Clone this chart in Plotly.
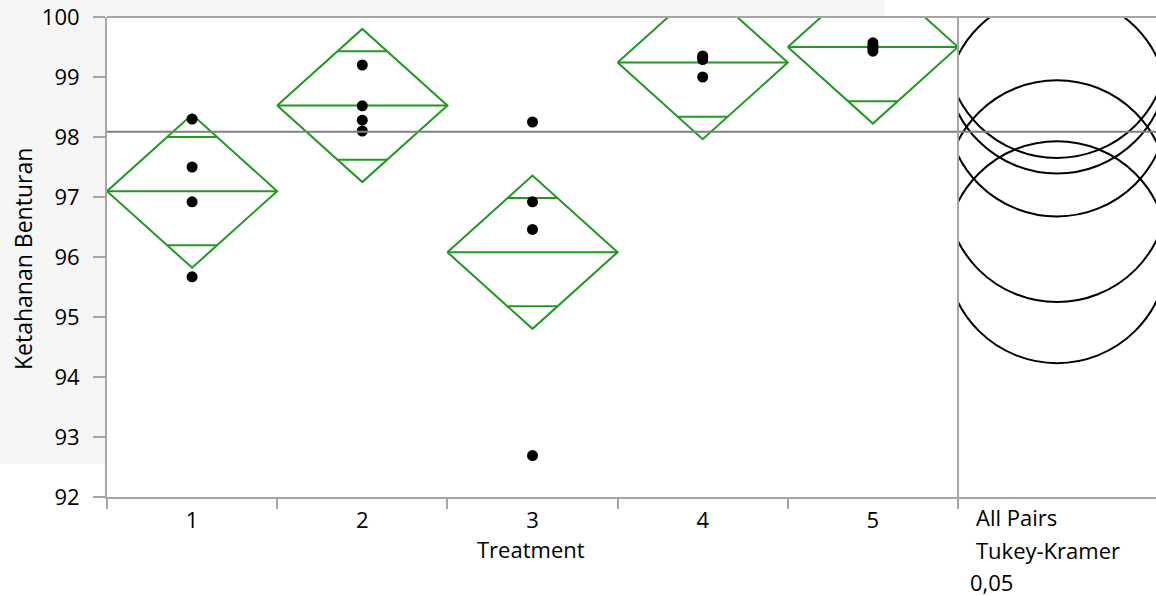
import math
import plotly.graph_objects as go

# ---- data -------------------------------------------------------------
treatments = ["1", "2", "3", "4", "5"]
values_t1 = [98.30, 97.50, 96.92, 95.67]
values_t2 = [99.20, 98.52, 98.28, 98.10]
values_t3 = [98.25, 96.92, 96.46, 92.69]
values_t4 = [99.35, 99.32, 99.29, 99.00]
values_t5 = [99.57, 99.52, 99.48, 99.43]
groups = [values_t1, values_t2, values_t3, values_t4, values_t5]

y_ticks = [92, 93, 94, 95, 96, 97, 98, 99, 100]
y_range = [92, 100]
alpha_label = "0,05"

# critical values for alpha = 0.05, 5 groups, 15 error df
T_CRIT = 2.1314        # Student t, 0.975 quantile, df = 15
Q_CRIT = 4.3670        # studentized range, k = 5, df = 15

# ---- statistics -------------------------------------------------------
n_total = sum(len(g) for g in groups)
means = [sum(g) / len(g) for g in groups]
grand_mean = sum(sum(g) for g in groups) / n_total
ss_within = sum(sum((v - m) ** 2 for v in g) for g, m in zip(groups, means))
df_err = n_total - len(groups)
s_pooled = math.sqrt(ss_within / df_err)
se = [s_pooled / math.sqrt(len(g)) for g in groups]
ci_half = [T_CRIT * e for e in se]
circle_r = [Q_CRIT / math.sqrt(2) * e for e in se]

# ---- styling ----------------------------------------------------------
FONT = "Open Sans"
FS = 22
GREEN = "#1f9a1f"
AXIS = "#a6a6a6"
W, H = 1156, 596
ML, MR, MT, MB = 107, 0, 17, 99
PW, PH = W - ML - MR, H - MT - MB
MAIN_W = 851                      # pixel width of the means panel
SIDE_W = PW - MAIN_W              # pixel width of the circles panel
PX_PER_UNIT = PH / (y_range[1] - y_range[0])
side_range = [0, SIDE_W / PX_PER_UNIT]
side_centre = side_range[1] / 2


def py_to_paper(pix):
    """Pixel row of the page -> paper y coordinate."""
    return (PH + MT - pix) / PH


def px_to_paper(pix):
    """Pixel column of the page -> paper x coordinate."""
    return (pix - ML) / PW


fig = go.Figure()

# means diamonds, mean lines and overlap marks
for i, (m, h) in enumerate(zip(means, ci_half)):
    x = i + 1
    w = 0.5 * len(groups[i]) / max(len(g) for g in groups)
    fig.add_trace(go.Scatter(
        x=[x - w, x, x + w, x, x - w, None, x - w, x + w],
        y=[m, m + h, m, m - h, m, None, m, m],
        mode="lines", line=dict(color=GREEN, width=2),
        hoverinfo="skip", showlegend=False))
    d = h / math.sqrt(2)
    hw = w * (1 - d / h)
    fig.add_trace(go.Scatter(
        x=[x - hw, x + hw, None, x - hw, x + hw],
        y=[m + d, m + d, None, m - d, m - d],
        mode="lines", line=dict(color=GREEN, width=2),
        hoverinfo="skip", showlegend=False))

# observations
obs_x, obs_y = [], []
for i, g in enumerate(groups):
    obs_x += [i + 1] * len(g)
    obs_y += g
fig.add_trace(go.Scatter(
    x=obs_x, y=obs_y, mode="markers",
    marker=dict(color="black", size=11),
    showlegend=False, cliponaxis=False))

# invisible anchor trace for the comparison-circle panel
fig.add_trace(go.Scatter(x=side_range, y=y_range, xaxis="x2", yaxis="y",
                         mode="markers", marker=dict(opacity=0),
                         hoverinfo="skip", showlegend=False))

shapes = []
# light window background in the margins
shapes.append(dict(type="rect", xref="paper", yref="paper", layer="below",
                   x0=px_to_paper(0), x1=-0.001, y0=py_to_paper(464),
                   y1=py_to_paper(0), fillcolor="#f6f6f6", line=dict(width=0)))
shapes.append(dict(type="rect", xref="paper", yref="paper", layer="below",
                   x0=-0.001, x1=px_to_paper(885), y0=1.002, y1=py_to_paper(0),
                   fillcolor="#f6f6f6", line=dict(width=0)))
# comparison circles
for m, r in zip(means, circle_r):
    shapes.append(dict(type="circle", xref="x2", yref="y",
                       x0=side_centre - r, x1=side_centre + r,
                       y0=m - r, y1=m + r,
                       line=dict(color="black", width=2)))
# grand mean
shapes.append(dict(type="line", xref="paper", yref="y", x0=0, x1=1,
                   y0=grand_mean, y1=grand_mean,
                   line=dict(color="#808080", width=2)))
# frame: top border and panel divider
shapes.append(dict(type="line", xref="paper", yref="paper", x0=0, x1=1,
                   y0=1, y1=1, line=dict(color=AXIS, width=2)))
shapes.append(dict(type="line", xref="paper", yref="paper",
                   x0=MAIN_W / PW, x1=MAIN_W / PW,
                   y0=0, y1=1, line=dict(color=AXIS, width=2)))

txt_font = dict(family=FONT, size=FS, color="black")
annotations = [
    dict(text="Ketahanan Benturan", xref="paper", yref="paper",
         x=px_to_paper(23), y=py_to_paper(259), textangle=-90,
         showarrow=False, xanchor="center", yanchor="middle",
         font=dict(family=FONT, size=FS + 1, color="black")),
    dict(text="Treatment", xref="paper", yref="paper",
         x=px_to_paper(531), y=py_to_paper(549),
         showarrow=False, xanchor="center", yanchor="middle", font=txt_font),
    dict(text="All Pairs", xref="paper", yref="paper",
         x=px_to_paper(974), y=py_to_paper(517),
         showarrow=False, xanchor="left", yanchor="middle", font=txt_font),
    dict(text="Tukey-Kramer", xref="paper", yref="paper",
         x=px_to_paper(974), y=py_to_paper(550),
         showarrow=False, xanchor="left", yanchor="middle", font=txt_font),
    dict(text=alpha_label, xref="paper", yref="paper",
         x=px_to_paper(968), y=py_to_paper(582),
         showarrow=False, xanchor="left", yanchor="middle", font=txt_font),
]

fig.update_layout(
    width=W, height=H,
    margin=dict(l=ML, r=MR, t=MT, b=MB, pad=0),
    paper_bgcolor="white", plot_bgcolor="white",
    font=dict(family=FONT, size=FS, color="black"),
    shapes=shapes, annotations=annotations,
    xaxis=dict(domain=[0, MAIN_W / PW], range=[0.5, 5.5],
               tickvals=[1, 2, 3, 4, 5], ticktext=treatments,
               ticks="", showgrid=False, zeroline=False,
               showline=True, linecolor=AXIS, linewidth=2,
               ticklabelstandoff=3,
               tickfont=txt_font,
               minor=dict(tickvals=[0.5, 1.5, 2.5, 3.5, 4.5, 5.5],
                          ticks="outside", ticklen=10, tickwidth=2,
                          tickcolor=AXIS, showgrid=False),
               fixedrange=True),
    xaxis2=dict(domain=[MAIN_W / PW, 1], range=side_range, anchor="y",
                showticklabels=False, ticks="", showgrid=False,
                zeroline=False, showline=True, linecolor=AXIS, linewidth=2,
                fixedrange=True),
    yaxis=dict(range=y_range, tickvals=y_ticks, ticks="outside",
               ticklen=12, tickwidth=2, tickcolor=AXIS,
               showline=True, linecolor=AXIS, linewidth=2,
               showgrid=False, zeroline=False, ticklabelstandoff=9,
               tickfont=txt_font,
               fixedrange=True),
)

fig.write_html("out.html")
